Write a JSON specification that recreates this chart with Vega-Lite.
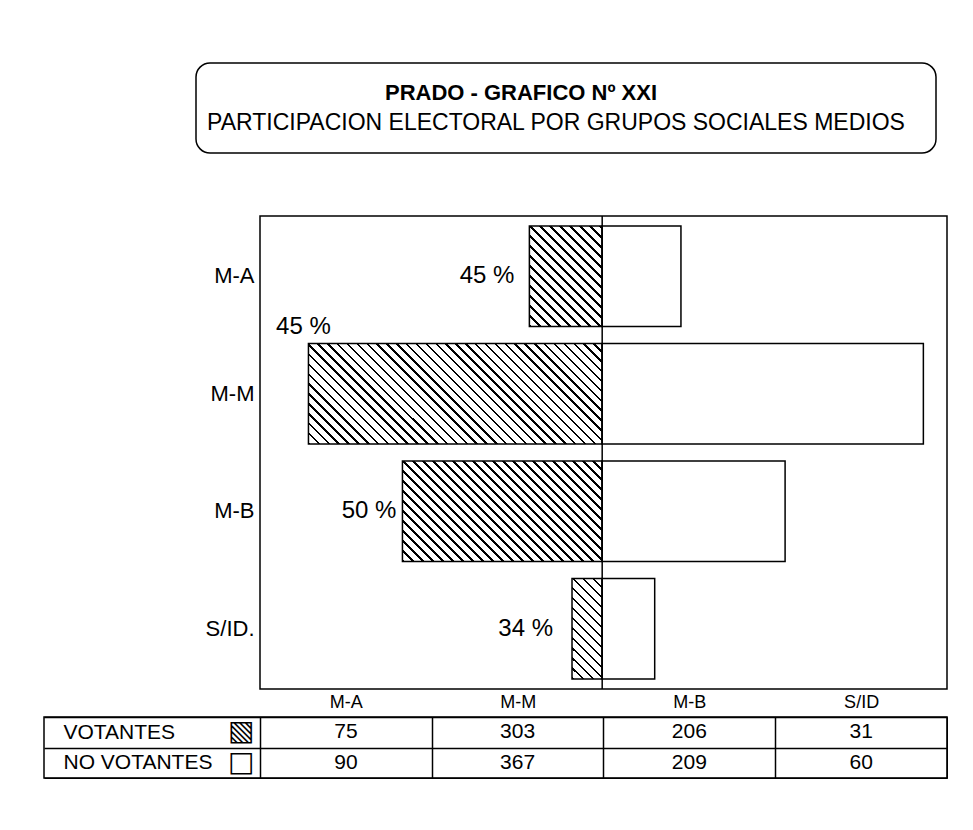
{
  "$schema": "https://vega.github.io/schema/vega-lite/v6.json",
  "background": "white",
  "padding": {"left": 43, "top": 62, "right": 0, "bottom": 0},
  "autosize": {"type": "pad"},
  "config": {
    "view": {"stroke": "black", "strokeWidth": 1.5},
    "font": "Liberation Sans",
    "text": {"font": "Liberation Sans", "color": "black"},
    "axis": {"labelFont": "Liberation Sans", "labelColor": "black"}
  },
  "spacing": 60,
  "vconcat": [
    {
      "bounds": "flush",
      "spacing": 0,
      "hconcat": [
        {"width": 152, "height": 90, "view": {"stroke": null}, "data": {"values": []}, "mark": "point"},
        {
          "width": 740,
          "height": 90,
          "view": {"stroke": "black", "strokeWidth": 1.5, "cornerRadius": 14},
          "data": {"values": [
            {"linea": 1, "texto": "PRADO - GRAFICO Nº XXI"},
            {"linea": 2, "texto": "PARTICIPACION ELECTORAL POR GRUPOS SOCIALES MEDIOS"}
          ]},
          "layer": [
            {
              "transform": [{"filter": "datum.linea === 1"}],
              "mark": {"type": "text", "fontSize": 22, "fontWeight": "bold", "baseline": "middle", "dx": -45},
              "encoding": {
                "y": {"field": "linea", "type": "ordinal", "axis": null, "scale": {"type": "point", "padding": 1.07}},
                "text": {"field": "texto"}
              }
            },
            {
              "transform": [{"filter": "datum.linea === 2"}],
              "mark": {"type": "text", "fontSize": 23, "baseline": "middle", "dx": -10},
              "encoding": {
                "y": {"field": "linea", "type": "ordinal", "axis": null, "scale": {"type": "point", "padding": 1.07}},
                "text": {"field": "texto"}
              }
            }
          ]
        }
      ]
    },
    {
      "spacing": 1,
      "vconcat": [
        {
          "bounds": "flush",
          "spacing": 0,
          "hconcat": [
            {"width": 216, "height": 473, "view": {"stroke": null}, "data": {"values": []}, "mark": "point"},
            {
              "width": 687,
              "height": 473,
              "view": {"stroke": "black", "strokeWidth": 1.5},
              "data": {"values": [
                {"grupo": "M-A", "votantes": 75, "no_votantes": 90, "porcentaje": "45 %"},
                {"grupo": "M-M", "votantes": 303, "no_votantes": 367, "porcentaje": "45 %"},
                {"grupo": "M-B", "votantes": 206, "no_votantes": 209, "porcentaje": "50 %"},
                {"grupo": "S/ID.", "votantes": 31, "no_votantes": 60, "porcentaje": "34 %"}
              ]},
              "resolve": {"scale": {"x": "independent"}},
              "layer": [
                {
                  "mark": {"type": "bar", "stroke": "black", "strokeWidth": 1.5},
                  "encoding": {
                    "y": {"field": "grupo", "type": "nominal", "sort": ["M-A", "M-M", "M-B", "S/ID."], "scale": {"paddingInner": 0.144, "paddingOuter": 0.085}, "axis": {"title": null, "ticks": false, "domain": false, "labelFontSize": 22, "labelPadding": 6}},
                    "x": {"field": "votantes", "type": "quantitative", "scale": {"domain": [-356, 353], "reverse": true, "nice": false, "zero": false}, "axis": null},
                    "fill": {
                      "condition": [
                        {"test": "datum.grupo === 'M-A'", "value": {"gradient": "linear", "x1": 0, "y1": 1, "x2": 0.818, "y2": -0.132, "stops": [
                          {"offset":0,"color":"#000"},{"offset":0.0144,"color":"#000"},{"offset":0.0144,"color":"#fff"},{"offset":0.0577,"color":"#fff"},
                          {"offset":0.0577,"color":"#000"},{"offset":0.0721,"color":"#000"},{"offset":0.0721,"color":"#fff"},{"offset":0.1154,"color":"#fff"},
                          {"offset":0.1154,"color":"#000"},{"offset":0.1298,"color":"#000"},{"offset":0.1298,"color":"#fff"},{"offset":0.1731,"color":"#fff"},
                          {"offset":0.1731,"color":"#000"},{"offset":0.1875,"color":"#000"},{"offset":0.1875,"color":"#fff"},{"offset":0.2308,"color":"#fff"},
                          {"offset":0.2308,"color":"#000"},{"offset":0.2452,"color":"#000"},{"offset":0.2452,"color":"#fff"},{"offset":0.2885,"color":"#fff"},
                          {"offset":0.2885,"color":"#000"},{"offset":0.3029,"color":"#000"},{"offset":0.3029,"color":"#fff"},{"offset":0.3462,"color":"#fff"},
                          {"offset":0.3462,"color":"#000"},{"offset":0.3606,"color":"#000"},{"offset":0.3606,"color":"#fff"},{"offset":0.4039,"color":"#fff"},
                          {"offset":0.4039,"color":"#000"},{"offset":0.4183,"color":"#000"},{"offset":0.4183,"color":"#fff"},{"offset":0.4616,"color":"#fff"},
                          {"offset":0.4616,"color":"#000"},{"offset":0.476,"color":"#000"},{"offset":0.476,"color":"#fff"},{"offset":0.5193,"color":"#fff"},
                          {"offset":0.5193,"color":"#000"},{"offset":0.5337,"color":"#000"},{"offset":0.5337,"color":"#fff"},{"offset":0.577,"color":"#fff"},
                          {"offset":0.577,"color":"#000"},{"offset":0.5914,"color":"#000"},{"offset":0.5914,"color":"#fff"},{"offset":0.6347,"color":"#fff"},
                          {"offset":0.6347,"color":"#000"},{"offset":0.6491,"color":"#000"},{"offset":0.6491,"color":"#fff"},{"offset":0.6924,"color":"#fff"},
                          {"offset":0.6924,"color":"#000"},{"offset":0.7068,"color":"#000"},{"offset":0.7068,"color":"#fff"},{"offset":0.7501,"color":"#fff"},
                          {"offset":0.7501,"color":"#000"},{"offset":0.7645,"color":"#000"},{"offset":0.7645,"color":"#fff"},{"offset":0.8078,"color":"#fff"},
                          {"offset":0.8078,"color":"#000"},{"offset":0.8222,"color":"#000"},{"offset":0.8222,"color":"#fff"},{"offset":0.8655,"color":"#fff"},
                          {"offset":0.8655,"color":"#000"},{"offset":0.8799,"color":"#000"},{"offset":0.8799,"color":"#fff"},{"offset":0.9232,"color":"#fff"},
                          {"offset":0.9232,"color":"#000"},{"offset":0.9376,"color":"#000"},{"offset":0.9376,"color":"#fff"},{"offset":0.9809,"color":"#fff"},
                          {"offset":0.9809,"color":"#000"},{"offset":0.9953,"color":"#000"},{"offset":0.9953,"color":"#fff"},{"offset":1,"color":"#fff"}
                        ]}},
                        {"test": "datum.grupo === 'M-M'", "value": {"gradient": "linear", "x1": 0, "y1": 1, "x2": 1.2016, "y2": 0.5883, "stops": [
                          {"offset":0,"color":"#000"},{"offset":0.0063,"color":"#000"},{"offset":0.0063,"color":"#fff"},{"offset":0.025,"color":"#fff"},
                          {"offset":0.025,"color":"#000"},{"offset":0.0313,"color":"#000"},{"offset":0.0313,"color":"#fff"},{"offset":0.05,"color":"#fff"},
                          {"offset":0.05,"color":"#000"},{"offset":0.0563,"color":"#000"},{"offset":0.0563,"color":"#fff"},{"offset":0.075,"color":"#fff"},
                          {"offset":0.075,"color":"#000"},{"offset":0.0813,"color":"#000"},{"offset":0.0813,"color":"#fff"},{"offset":0.1,"color":"#fff"},
                          {"offset":0.1,"color":"#000"},{"offset":0.1063,"color":"#000"},{"offset":0.1063,"color":"#fff"},{"offset":0.125,"color":"#fff"},
                          {"offset":0.125,"color":"#000"},{"offset":0.1313,"color":"#000"},{"offset":0.1313,"color":"#fff"},{"offset":0.15,"color":"#fff"},
                          {"offset":0.15,"color":"#000"},{"offset":0.1563,"color":"#000"},{"offset":0.1563,"color":"#fff"},{"offset":0.175,"color":"#fff"},
                          {"offset":0.175,"color":"#000"},{"offset":0.1813,"color":"#000"},{"offset":0.1813,"color":"#fff"},{"offset":0.2,"color":"#fff"},
                          {"offset":0.2,"color":"#000"},{"offset":0.2063,"color":"#000"},{"offset":0.2063,"color":"#fff"},{"offset":0.225,"color":"#fff"},
                          {"offset":0.225,"color":"#000"},{"offset":0.2313,"color":"#000"},{"offset":0.2313,"color":"#fff"},{"offset":0.25,"color":"#fff"},
                          {"offset":0.25,"color":"#000"},{"offset":0.2563,"color":"#000"},{"offset":0.2563,"color":"#fff"},{"offset":0.275,"color":"#fff"},
                          {"offset":0.275,"color":"#000"},{"offset":0.2813,"color":"#000"},{"offset":0.2813,"color":"#fff"},{"offset":0.3,"color":"#fff"},
                          {"offset":0.3,"color":"#000"},{"offset":0.3063,"color":"#000"},{"offset":0.3063,"color":"#fff"},{"offset":0.325,"color":"#fff"},
                          {"offset":0.325,"color":"#000"},{"offset":0.3313,"color":"#000"},{"offset":0.3313,"color":"#fff"},{"offset":0.35,"color":"#fff"},
                          {"offset":0.35,"color":"#000"},{"offset":0.3563,"color":"#000"},{"offset":0.3563,"color":"#fff"},{"offset":0.375,"color":"#fff"},
                          {"offset":0.375,"color":"#000"},{"offset":0.3813,"color":"#000"},{"offset":0.3813,"color":"#fff"},{"offset":0.4,"color":"#fff"},
                          {"offset":0.4,"color":"#000"},{"offset":0.4063,"color":"#000"},{"offset":0.4063,"color":"#fff"},{"offset":0.425,"color":"#fff"},
                          {"offset":0.425,"color":"#000"},{"offset":0.4313,"color":"#000"},{"offset":0.4313,"color":"#fff"},{"offset":0.45,"color":"#fff"},
                          {"offset":0.45,"color":"#000"},{"offset":0.4563,"color":"#000"},{"offset":0.4563,"color":"#fff"},{"offset":0.475,"color":"#fff"},
                          {"offset":0.475,"color":"#000"},{"offset":0.4813,"color":"#000"},{"offset":0.4813,"color":"#fff"},{"offset":0.5,"color":"#fff"},
                          {"offset":0.5,"color":"#000"},{"offset":0.5063,"color":"#000"},{"offset":0.5063,"color":"#fff"},{"offset":0.525,"color":"#fff"},
                          {"offset":0.525,"color":"#000"},{"offset":0.5313,"color":"#000"},{"offset":0.5313,"color":"#fff"},{"offset":0.55,"color":"#fff"},
                          {"offset":0.55,"color":"#000"},{"offset":0.5563,"color":"#000"},{"offset":0.5563,"color":"#fff"},{"offset":0.575,"color":"#fff"},
                          {"offset":0.575,"color":"#000"},{"offset":0.5813,"color":"#000"},{"offset":0.5813,"color":"#fff"},{"offset":0.6,"color":"#fff"},
                          {"offset":0.6,"color":"#000"},{"offset":0.6063,"color":"#000"},{"offset":0.6063,"color":"#fff"},{"offset":0.625,"color":"#fff"},
                          {"offset":0.625,"color":"#000"},{"offset":0.6313,"color":"#000"},{"offset":0.6313,"color":"#fff"},{"offset":0.65,"color":"#fff"},
                          {"offset":0.65,"color":"#000"},{"offset":0.6563,"color":"#000"},{"offset":0.6563,"color":"#fff"},{"offset":0.675,"color":"#fff"},
                          {"offset":0.675,"color":"#000"},{"offset":0.6813,"color":"#000"},{"offset":0.6813,"color":"#fff"},{"offset":0.7,"color":"#fff"},
                          {"offset":0.7,"color":"#000"},{"offset":0.7063,"color":"#000"},{"offset":0.7063,"color":"#fff"},{"offset":0.725,"color":"#fff"},
                          {"offset":0.725,"color":"#000"},{"offset":0.7313,"color":"#000"},{"offset":0.7313,"color":"#fff"},{"offset":0.75,"color":"#fff"},
                          {"offset":0.75,"color":"#000"},{"offset":0.7563,"color":"#000"},{"offset":0.7563,"color":"#fff"},{"offset":0.775,"color":"#fff"},
                          {"offset":0.775,"color":"#000"},{"offset":0.7813,"color":"#000"},{"offset":0.7813,"color":"#fff"},{"offset":0.8,"color":"#fff"},
                          {"offset":0.8,"color":"#000"},{"offset":0.8063,"color":"#000"},{"offset":0.8063,"color":"#fff"},{"offset":0.825,"color":"#fff"},
                          {"offset":0.825,"color":"#000"},{"offset":0.8313,"color":"#000"},{"offset":0.8313,"color":"#fff"},{"offset":0.85,"color":"#fff"},
                          {"offset":0.85,"color":"#000"},{"offset":0.8563,"color":"#000"},{"offset":0.8563,"color":"#fff"},{"offset":0.875,"color":"#fff"},
                          {"offset":0.875,"color":"#000"},{"offset":0.8813,"color":"#000"},{"offset":0.8813,"color":"#fff"},{"offset":0.9,"color":"#fff"},
                          {"offset":0.9,"color":"#000"},{"offset":0.9063,"color":"#000"},{"offset":0.9063,"color":"#fff"},{"offset":0.925,"color":"#fff"},
                          {"offset":0.925,"color":"#000"},{"offset":0.9313,"color":"#000"},{"offset":0.9313,"color":"#fff"},{"offset":0.95,"color":"#fff"},
                          {"offset":0.95,"color":"#000"},{"offset":0.9563,"color":"#000"},{"offset":0.9563,"color":"#fff"},{"offset":0.975,"color":"#fff"},
                          {"offset":0.975,"color":"#000"},{"offset":0.9813,"color":"#000"},{"offset":0.9813,"color":"#fff"},{"offset":1,"color":"#fff"}
                        ]}},
                        {"test": "datum.grupo === 'M-B'", "value": {"gradient": "linear", "x1": 0, "y1": 1, "x2": 1.1994, "y2": 0.3955, "stops": [
                          {"offset":0,"color":"#000"},{"offset":0.0083,"color":"#000"},{"offset":0.0083,"color":"#fff"},{"offset":0.0333,"color":"#fff"},
                          {"offset":0.0333,"color":"#000"},{"offset":0.0416,"color":"#000"},{"offset":0.0416,"color":"#fff"},{"offset":0.0666,"color":"#fff"},
                          {"offset":0.0666,"color":"#000"},{"offset":0.0749,"color":"#000"},{"offset":0.0749,"color":"#fff"},{"offset":0.0999,"color":"#fff"},
                          {"offset":0.0999,"color":"#000"},{"offset":0.1082,"color":"#000"},{"offset":0.1082,"color":"#fff"},{"offset":0.1332,"color":"#fff"},
                          {"offset":0.1332,"color":"#000"},{"offset":0.1415,"color":"#000"},{"offset":0.1415,"color":"#fff"},{"offset":0.1665,"color":"#fff"},
                          {"offset":0.1665,"color":"#000"},{"offset":0.1748,"color":"#000"},{"offset":0.1748,"color":"#fff"},{"offset":0.1998,"color":"#fff"},
                          {"offset":0.1998,"color":"#000"},{"offset":0.2081,"color":"#000"},{"offset":0.2081,"color":"#fff"},{"offset":0.2331,"color":"#fff"},
                          {"offset":0.2331,"color":"#000"},{"offset":0.2414,"color":"#000"},{"offset":0.2414,"color":"#fff"},{"offset":0.2664,"color":"#fff"},
                          {"offset":0.2664,"color":"#000"},{"offset":0.2747,"color":"#000"},{"offset":0.2747,"color":"#fff"},{"offset":0.2997,"color":"#fff"},
                          {"offset":0.2997,"color":"#000"},{"offset":0.308,"color":"#000"},{"offset":0.308,"color":"#fff"},{"offset":0.333,"color":"#fff"},
                          {"offset":0.333,"color":"#000"},{"offset":0.3413,"color":"#000"},{"offset":0.3413,"color":"#fff"},{"offset":0.3663,"color":"#fff"},
                          {"offset":0.3663,"color":"#000"},{"offset":0.3746,"color":"#000"},{"offset":0.3746,"color":"#fff"},{"offset":0.3996,"color":"#fff"},
                          {"offset":0.3996,"color":"#000"},{"offset":0.4079,"color":"#000"},{"offset":0.4079,"color":"#fff"},{"offset":0.4329,"color":"#fff"},
                          {"offset":0.4329,"color":"#000"},{"offset":0.4412,"color":"#000"},{"offset":0.4412,"color":"#fff"},{"offset":0.4662,"color":"#fff"},
                          {"offset":0.4662,"color":"#000"},{"offset":0.4745,"color":"#000"},{"offset":0.4745,"color":"#fff"},{"offset":0.4995,"color":"#fff"},
                          {"offset":0.4995,"color":"#000"},{"offset":0.5078,"color":"#000"},{"offset":0.5078,"color":"#fff"},{"offset":0.5328,"color":"#fff"},
                          {"offset":0.5328,"color":"#000"},{"offset":0.5411,"color":"#000"},{"offset":0.5411,"color":"#fff"},{"offset":0.5661,"color":"#fff"},
                          {"offset":0.5661,"color":"#000"},{"offset":0.5744,"color":"#000"},{"offset":0.5744,"color":"#fff"},{"offset":0.5994,"color":"#fff"},
                          {"offset":0.5994,"color":"#000"},{"offset":0.6077,"color":"#000"},{"offset":0.6077,"color":"#fff"},{"offset":0.6327,"color":"#fff"},
                          {"offset":0.6327,"color":"#000"},{"offset":0.641,"color":"#000"},{"offset":0.641,"color":"#fff"},{"offset":0.666,"color":"#fff"},
                          {"offset":0.666,"color":"#000"},{"offset":0.6743,"color":"#000"},{"offset":0.6743,"color":"#fff"},{"offset":0.6993,"color":"#fff"},
                          {"offset":0.6993,"color":"#000"},{"offset":0.7076,"color":"#000"},{"offset":0.7076,"color":"#fff"},{"offset":0.7326,"color":"#fff"},
                          {"offset":0.7326,"color":"#000"},{"offset":0.7409,"color":"#000"},{"offset":0.7409,"color":"#fff"},{"offset":0.7659,"color":"#fff"},
                          {"offset":0.7659,"color":"#000"},{"offset":0.7742,"color":"#000"},{"offset":0.7742,"color":"#fff"},{"offset":0.7992,"color":"#fff"},
                          {"offset":0.7992,"color":"#000"},{"offset":0.8075,"color":"#000"},{"offset":0.8075,"color":"#fff"},{"offset":0.8325,"color":"#fff"},
                          {"offset":0.8325,"color":"#000"},{"offset":0.8408,"color":"#000"},{"offset":0.8408,"color":"#fff"},{"offset":0.8658,"color":"#fff"},
                          {"offset":0.8658,"color":"#000"},{"offset":0.8741,"color":"#000"},{"offset":0.8741,"color":"#fff"},{"offset":0.8991,"color":"#fff"},
                          {"offset":0.8991,"color":"#000"},{"offset":0.9074,"color":"#000"},{"offset":0.9074,"color":"#fff"},{"offset":0.9324,"color":"#fff"},
                          {"offset":0.9324,"color":"#000"},{"offset":0.9407,"color":"#000"},{"offset":0.9407,"color":"#fff"},{"offset":0.9657,"color":"#fff"},
                          {"offset":0.9657,"color":"#000"},{"offset":0.974,"color":"#000"},{"offset":0.974,"color":"#fff"},{"offset":1,"color":"#fff"}
                        ]}},
                        {"test": "datum.grupo === 'S/ID.'", "value": {"gradient": "linear", "x1": 0, "y1": 1, "x2": 0.3555, "y2": -0.1922, "stops": [
                          {"offset":0,"color":"#000"},{"offset":0.019,"color":"#000"},{"offset":0.019,"color":"#fff"},{"offset":0.0766,"color":"#fff"},
                          {"offset":0.0766,"color":"#000"},{"offset":0.0956,"color":"#000"},{"offset":0.0956,"color":"#fff"},{"offset":0.1532,"color":"#fff"},
                          {"offset":0.1532,"color":"#000"},{"offset":0.1722,"color":"#000"},{"offset":0.1722,"color":"#fff"},{"offset":0.2298,"color":"#fff"},
                          {"offset":0.2298,"color":"#000"},{"offset":0.2488,"color":"#000"},{"offset":0.2488,"color":"#fff"},{"offset":0.3064,"color":"#fff"},
                          {"offset":0.3064,"color":"#000"},{"offset":0.3254,"color":"#000"},{"offset":0.3254,"color":"#fff"},{"offset":0.383,"color":"#fff"},
                          {"offset":0.383,"color":"#000"},{"offset":0.402,"color":"#000"},{"offset":0.402,"color":"#fff"},{"offset":0.4596,"color":"#fff"},
                          {"offset":0.4596,"color":"#000"},{"offset":0.4786,"color":"#000"},{"offset":0.4786,"color":"#fff"},{"offset":0.5362,"color":"#fff"},
                          {"offset":0.5362,"color":"#000"},{"offset":0.5552,"color":"#000"},{"offset":0.5552,"color":"#fff"},{"offset":0.6128,"color":"#fff"},
                          {"offset":0.6128,"color":"#000"},{"offset":0.6318,"color":"#000"},{"offset":0.6318,"color":"#fff"},{"offset":0.6894,"color":"#fff"},
                          {"offset":0.6894,"color":"#000"},{"offset":0.7084,"color":"#000"},{"offset":0.7084,"color":"#fff"},{"offset":0.766,"color":"#fff"},
                          {"offset":0.766,"color":"#000"},{"offset":0.785,"color":"#000"},{"offset":0.785,"color":"#fff"},{"offset":0.8426,"color":"#fff"},
                          {"offset":0.8426,"color":"#000"},{"offset":0.8616,"color":"#000"},{"offset":0.8616,"color":"#fff"},{"offset":0.9192,"color":"#fff"},
                          {"offset":0.9192,"color":"#000"},{"offset":0.9382,"color":"#000"},{"offset":0.9382,"color":"#fff"},{"offset":1,"color":"#fff"}
                        ]}}
                      ],
                      "value": "white"
                    }
                  }
                },
                {
                  "mark": {"type": "bar", "fill": "white", "stroke": "black", "strokeWidth": 1.5},
                  "encoding": {
                    "y": {"field": "grupo", "type": "nominal", "sort": ["M-A", "M-M", "M-B", "S/ID."], "scale": {"paddingInner": 0.144, "paddingOuter": 0.085}, "axis": {"title": null, "ticks": false, "domain": false, "labelFontSize": 22, "labelPadding": 6}},
                    "x": {"field": "no_votantes", "type": "quantitative", "scale": {"domain": [-391, 394], "nice": false, "zero": false}, "axis": null}
                  }
                },
                {
                  "data": {"values": [{}]},
                  "mark": {"type": "rule", "color": "black", "strokeWidth": 1.5},
                  "encoding": {
                    "x": {"datum": 0, "type": "quantitative", "scale": {"domain": [-391, 394], "nice": false, "zero": false}, "axis": null}
                  }
                },
                {
                  "transform": [{"filter": "datum.grupo === 'M-A'"}],
                  "mark": {"type": "text", "align": "right", "baseline": "middle", "dx": -15, "fontSize": 24},
                  "encoding": {
                    "y": {"field": "grupo", "type": "nominal", "sort": ["M-A", "M-M", "M-B", "S/ID."], "scale": {"paddingInner": 0.144, "paddingOuter": 0.085}, "axis": {"title": null, "ticks": false, "domain": false, "labelFontSize": 22, "labelPadding": 6}},
                    "x": {"field": "votantes", "type": "quantitative", "scale": {"domain": [-356, 353], "reverse": true, "nice": false, "zero": false}, "axis": null},
                    "text": {"field": "porcentaje"}
                  }
                },
                {
                  "transform": [{"filter": "datum.grupo === 'M-M'"}],
                  "mark": {"type": "text", "align": "center", "baseline": "middle", "dx": -5, "dy": -67, "fontSize": 24},
                  "encoding": {
                    "y": {"field": "grupo", "type": "nominal", "sort": ["M-A", "M-M", "M-B", "S/ID."], "scale": {"paddingInner": 0.144, "paddingOuter": 0.085}, "axis": {"title": null, "ticks": false, "domain": false, "labelFontSize": 22, "labelPadding": 6}},
                    "x": {"field": "votantes", "type": "quantitative", "scale": {"domain": [-356, 353], "reverse": true, "nice": false, "zero": false}, "axis": null},
                    "text": {"field": "porcentaje"}
                  }
                },
                {
                  "transform": [{"filter": "datum.grupo === 'M-B'"}],
                  "mark": {"type": "text", "align": "right", "baseline": "middle", "dx": -6, "fontSize": 24},
                  "encoding": {
                    "y": {"field": "grupo", "type": "nominal", "sort": ["M-A", "M-M", "M-B", "S/ID."], "scale": {"paddingInner": 0.144, "paddingOuter": 0.085}, "axis": {"title": null, "ticks": false, "domain": false, "labelFontSize": 22, "labelPadding": 6}},
                    "x": {"field": "votantes", "type": "quantitative", "scale": {"domain": [-356, 353], "reverse": true, "nice": false, "zero": false}, "axis": null},
                    "text": {"field": "porcentaje"}
                  }
                },
                {
                  "transform": [{"filter": "datum.grupo === 'S/ID.'"}],
                  "mark": {"type": "text", "align": "right", "baseline": "middle", "dx": -19, "fontSize": 24},
                  "encoding": {
                    "y": {"field": "grupo", "type": "nominal", "sort": ["M-A", "M-M", "M-B", "S/ID."], "scale": {"paddingInner": 0.144, "paddingOuter": 0.085}, "axis": {"title": null, "ticks": false, "domain": false, "labelFontSize": 22, "labelPadding": 6}},
                    "x": {"field": "votantes", "type": "quantitative", "scale": {"domain": [-356, 353], "reverse": true, "nice": false, "zero": false}, "axis": null},
                    "text": {"field": "porcentaje"}
                  }
                }
              ]
            }
          ]
        },
        {
          "width": 903,
          "height": 61,
          "view": {"stroke": "black", "strokeWidth": 1.5},
          "data": {"values": [
            {"fila": "VOTANTES", "columna": "M-A", "valor": 75},
            {"fila": "VOTANTES", "columna": "M-M", "valor": 303},
            {"fila": "VOTANTES", "columna": "M-B", "valor": 206},
            {"fila": "VOTANTES", "columna": "S/ID", "valor": 31},
            {"fila": "NO VOTANTES", "columna": "M-A", "valor": 90},
            {"fila": "NO VOTANTES", "columna": "M-M", "valor": 367},
            {"fila": "NO VOTANTES", "columna": "M-B", "valor": 209},
            {"fila": "NO VOTANTES", "columna": "S/ID", "valor": 60}
          ]},
          "resolve": {"scale": {"y": "independent"}, "axis": {"y": "independent"}},
          "layer": [
            {
              "mark": {"type": "text", "fontSize": 21, "baseline": "middle"},
              "encoding": {
                "x": {"field": "columna", "type": "nominal", "sort": ["M-A", "M-M", "M-B", "S/ID"], "scale": {"type": "band", "paddingInner": 0, "paddingOuter": 0.6288, "align": 1}, "axis": {"orient": "top", "title": null, "ticks": false, "domain": false, "labelAngle": 0, "labelFontSize": 18, "labelPadding": 6, "grid": true, "tickBand": "extent", "gridColor": "black", "gridWidth": 1.5, "gridOpacity": 1}},
                "y": {"field": "fila", "type": "nominal", "sort": ["VOTANTES", "NO VOTANTES"], "scale": {"type": "band", "paddingInner": 0, "paddingOuter": 0}, "axis": {"orient": "left", "title": null, "ticks": false, "tickSize": 0, "domain": false, "labelAlign": "left", "labelPadding": -19, "labelFontSize": 21, "grid": true, "tickBand": "extent", "gridColor": "black", "gridWidth": 1.5, "gridOpacity": 1}},
                "text": {"field": "valor", "type": "quantitative"}
              }
            },
            {
              "mark": {"type": "point", "opacity": 0},
              "encoding": {
                "y": {"field": "fila", "type": "nominal", "sort": ["VOTANTES", "NO VOTANTES"], "scale": {"type": "band", "paddingInner": 0, "paddingOuter": 0}, "axis": {"orient": "right", "title": null, "ticks": false, "tickSize": 0, "domain": false, "grid": false, "labelAlign": "right", "labelPadding": -693, "labelFont": "DejaVu Sans", "labelFontSize": 28, "labelExpr": "datum.value === 'VOTANTES' ? '▧' : '□'"}}
              }
            }
          ]
        }
      ]
    }
  ]
}
